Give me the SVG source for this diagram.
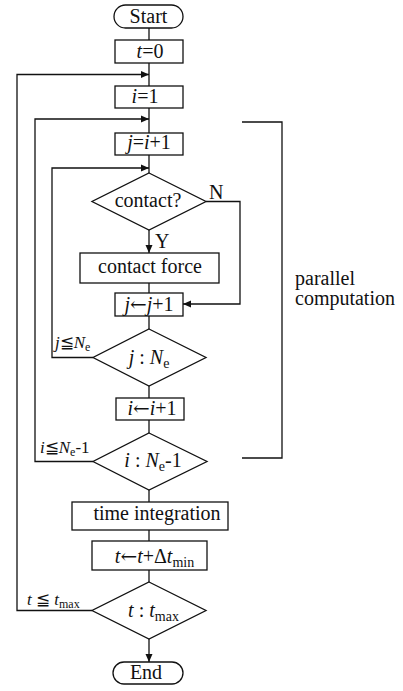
<svg xmlns="http://www.w3.org/2000/svg" width="403" height="691" viewBox="0 0 403 691">
  <defs>
    <marker id="arrow" viewBox="0 0 8 8" refX="8" refY="4" markerWidth="8" markerHeight="8" markerUnits="userSpaceOnUse" orient="auto">
      <path d="M0,0.5 L8,4 L0,7.5 Z" fill="#111"/>
    </marker>
  </defs>
  <style>
    .shape { fill: #fff; stroke: #111; stroke-width: 1.3; }
    .line { fill: none; stroke: #111; stroke-width: 1.3; }
    text { font-family: 'Liberation Serif', 'Times New Roman', Times, serif; fill: #111; }
    .t { font-size: 20px; }
    .c { text-anchor: middle; }
    .lbl { font-size: 17px; }
    .it { font-style: italic; }
    .sub { font-size: 14px; }
    .subs { font-size: 12px; }
    .sym { font-family: 'DejaVu Serif', serif; }
  </style>

  <rect width="403" height="691" fill="#fff"/>

  <!-- connectors -->
  <g id="connectors">
    <line class="line" x1="149" y1="28" x2="149" y2="40"/>
    <line class="line" x1="149" y1="63" x2="149" y2="86"/>
    <line class="line" x1="149" y1="108" x2="149" y2="133"/>
    <line class="line" x1="149" y1="155" x2="149" y2="173"/>
    <line class="line" x1="149" y1="230" x2="149" y2="253" marker-end="url(#arrow)"/>
    <line class="line" x1="149" y1="283" x2="149" y2="293"/>
    <polyline class="line" points="206,201.5 240,201.5 240,304 183,304" marker-end="url(#arrow)"/>
    <line class="line" x1="149" y1="316" x2="149" y2="329"/>
    <polyline class="line" points="93,357.5 52,357.5 52,168 149,168" marker-end="url(#arrow)"/>
    <line class="line" x1="149" y1="386" x2="149" y2="398"/>
    <line class="line" x1="149" y1="420" x2="149" y2="433"/>
    <polyline class="line" points="93,461.5 35,461.5 35,119 149,119" marker-end="url(#arrow)"/>
    <line class="line" x1="149" y1="490" x2="149" y2="502"/>
    <line class="line" x1="149" y1="530" x2="149" y2="541"/>
    <line class="line" x1="149" y1="570" x2="149" y2="582"/>
    <polyline class="line" points="92,610.5 17,610.5 17,74.5 149,74.5" marker-end="url(#arrow)"/>
    <line class="line" x1="149" y1="639" x2="149" y2="662" marker-end="url(#arrow)"/>
    <!-- bracket marking the parallel part -->
    <polyline class="line" points="242,122 282,122 282,458 242,458"/>
  </g>

  <g id="start">
    <rect class="shape" x="114" y="5" width="69" height="23" rx="11.5"/>
    <text class="t c" x="148.5" y="23">Start</text>
  </g>

  <g id="t0">
    <rect class="shape" x="115" y="40" width="68" height="23"/>
    <text class="t c" x="150" y="58"><tspan class="it">t</tspan>=0</text>
  </g>

  <g id="i1">
    <rect class="shape" x="115" y="86" width="68" height="22"/>
    <text class="t c" x="145" y="103"><tspan class="it">i</tspan>=1</text>
  </g>

  <g id="jinit">
    <rect class="shape" x="115" y="133" width="68" height="22"/>
    <text class="t c" x="149" y="149"><tspan class="it">j</tspan>=<tspan class="it">i</tspan>+1</text>
  </g>

  <g id="contact">
    <polygon class="shape" points="149,173 206,201.5 149,230 92,201.5"/>
    <text class="t c" x="148" y="207">contact?</text>
  </g>

  <g id="contact-force">
    <rect class="shape" x="80" y="253" width="139" height="30"/>
    <text class="t c" x="150" y="273">contact force</text>
  </g>

  <g id="jinc">
    <rect class="shape" x="115" y="293" width="68" height="23"/>
    <text class="t c" x="149" y="311"><tspan class="it">j</tspan><tspan class="sym">←</tspan><tspan class="it">j</tspan>+1</text>
  </g>

  <g id="jcheck">
    <polygon class="shape" points="149,329 206,357.5 149,386 93,357.5"/>
    <text class="t c" x="149" y="364"><tspan class="it">j</tspan> : <tspan class="it">N</tspan><tspan class="sub" dy="4">e</tspan></text>
  </g>

  <g id="iinc">
    <rect class="shape" x="116" y="398" width="68" height="22"/>
    <text class="t c" x="152" y="415"><tspan class="it">i</tspan><tspan class="sym">←</tspan><tspan class="it">i</tspan>+1</text>
  </g>

  <g id="icheck">
    <polygon class="shape" points="149,433 207,461.5 149,490 93,461.5"/>
    <text class="t c" x="153" y="467"><tspan class="it">i</tspan> : <tspan class="it">N</tspan><tspan class="sub" dy="4">e</tspan><tspan dy="-4">-1</tspan></text>
  </g>

  <g id="time-integration">
    <rect class="shape" x="72" y="502" width="156" height="28"/>
    <text class="t c" x="157" y="520">time integration</text>
  </g>

  <g id="tinc">
    <rect class="shape" x="92" y="541" width="115" height="29"/>
    <text class="t c" x="154.5" y="563"><tspan class="it">t</tspan><tspan class="sym">←</tspan><tspan class="it">t</tspan>+Δ<tspan class="it">t</tspan><tspan class="sub" dy="4">min</tspan></text>
  </g>

  <g id="tcheck">
    <polygon class="shape" points="149,582 206,610.5 149,639 92,610.5"/>
    <text class="t c" x="153.5" y="617"><tspan class="it">t</tspan> : <tspan class="it">t</tspan><tspan class="sub" dy="4">max</tspan></text>
  </g>

  <g id="end">
    <rect class="shape" x="113" y="662" width="70" height="22" rx="11"/>
    <text class="t c" x="146" y="679">End</text>
  </g>

  <!-- branch labels -->
  <g id="labels">
    <text class="t" x="209" y="199" font-size="19">N</text>
    <text class="t" x="155" y="248" font-size="19">Y</text>
    <text class="lbl" x="55" y="348"><tspan class="it">j</tspan><tspan class="sym">≦</tspan><tspan class="it">N</tspan><tspan class="subs" dy="3">e</tspan></text>
    <text class="lbl" x="40" y="453"><tspan class="it">i</tspan><tspan class="sym">≦</tspan><tspan class="it">N</tspan><tspan class="subs" dy="3">e</tspan><tspan dy="-3">-1</tspan></text>
    <text class="lbl" x="27" y="605"><tspan class="it">t</tspan> <tspan class="sym">≦</tspan> <tspan class="it">t</tspan><tspan class="subs" dy="3">max</tspan></text>
    <text class="t" x="295" y="285">parallel</text>
    <text class="t" x="295" y="305">computation</text>
  </g>
</svg>
